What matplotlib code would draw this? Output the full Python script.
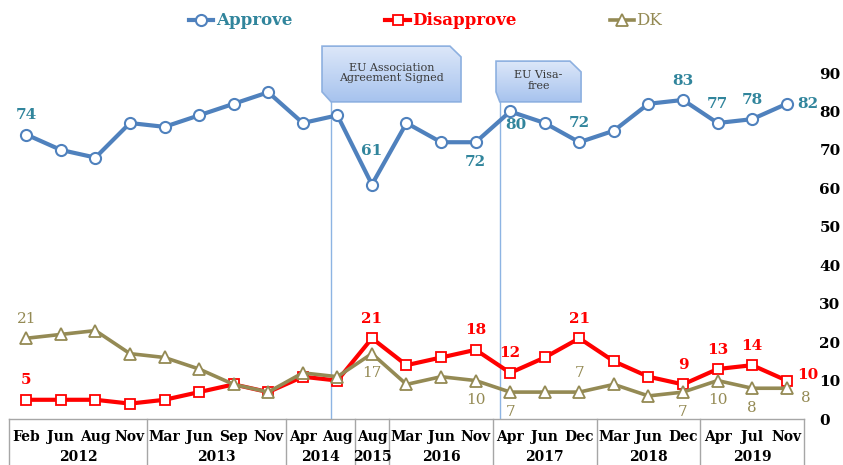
import numpy as np
import matplotlib
matplotlib.use('Agg')
import matplotlib.pyplot as plt
from matplotlib.patches import Polygon
plt.rcParams['font.family'] = ['DejaVu Serif']

# survey waves
months = ['Feb', 'Jun', 'Aug', 'Nov', 'Mar', 'Jun', 'Sep', 'Nov', 'Apr', 'Aug', 'Aug',
          'Mar', 'Jun', 'Nov', 'Apr', 'Jun', 'Dec', 'Mar', 'Jun', 'Dec', 'Apr', 'Jul', 'Nov']
years = ['2012', '2013', '2014', '2015', '2016', '2017', '2018', '2019']
year_counts = [4, 4, 2, 1, 3, 3, 3, 3]

approve = [74, 70, 68, 77, 76, 79, 82, 85, 77, 79, 61, 77, 72, 72, 80, 77, 72, 75, 82, 83, 77, 78, 82]
disapprove = [5, 5, 5, 4, 5, 7, 9, 7, 11, 10, 21, 14, 16, 18, 12, 16, 21, 15, 11, 9, 13, 14, 10]
dk = [21, 22, 23, 17, 16, 13, 9, 7, 12, 11, 17, 9, 11, 10, 7, 7, 7, 9, 6, 7, 10, 8, 8]

# which points carry a value label, and where it sits (a=above, b=below, r=right)
approve_lbl = {0: 'a', 10: 'a2', 13: 'b', 14: 'br', 16: 'a', 19: 'a', 20: 'a', 21: 'a', 22: 'r'}
disapprove_lbl = {0: 'a', 10: 'a', 13: 'a', 14: 'a', 16: 'a', 19: 'a', 20: 'a', 21: 'a', 22: 'ru'}
dk_lbl = {0: 'a', 10: 'b', 13: 'b', 14: 'b', 16: 'a', 19: 'b', 20: 'b', 21: 'b', 22: 'rd'}

c_app, c_app_txt = '#4F81BD', '#31859C'
c_dis = '#FF0000'
c_dk = '#948A54'

fig = plt.figure(figsize=(8.43, 4.65), dpi=100)
ax = fig.add_axes([9/843, 46/465, 795/843, 419/465])
x = np.arange(len(months))

ax.plot(x, approve, '-o', color=c_app, lw=3, ms=8, mfc='white', mec=c_app, mew=1.5,
        label='Approve', clip_on=False, zorder=3)
ax.plot(x, disapprove, '-s', color=c_dis, lw=3, ms=7.5, mfc='white', mec=c_dis, mew=1.3,
        label='Disapprove', clip_on=False, zorder=4)
ax.plot(x, dk, '-^', color=c_dk, lw=2.6, ms=8.5, mfc='white', mec=c_dk, mew=1.3,
        label='DK', clip_on=False, zorder=5)

offs = {'a': (0, 14), 'a2': (0, 24), 'b': (0, -14), 'br': (4, -10), 'r': (15, 0),
        'ru': (15, 4), 'rd': (14, -7)}
for vals, lbls, col, wt in [(approve, approve_lbl, c_app_txt, 'bold'),
                            (disapprove, disapprove_lbl, c_dis, 'bold'),
                            (dk, dk_lbl, c_dk, 'normal')]:
    for i, pos in lbls.items():
        ax.annotate(str(vals[i]), (x[i], vals[i]), xytext=offs[pos], textcoords='offset points',
                    ha='center', va='center', fontsize=11, color=col, fontweight=wt, zorder=6)

# event callouts
def callout(xs, ys, xline, text):
    l, r = xs
    t, b = ys
    pts = [(l, t), (r - 0.32, t), (r, t - 2.8), (r, b), (xline, b), (l, b + 2.6)]
    poly = Polygon(pts, closed=True, fc='none', ec='#8DB0E0', lw=1.2, zorder=8)
    ax.add_patch(poly)
    grad = np.linspace(0, 1, 64).reshape(-1, 1)
    cmap = matplotlib.colors.LinearSegmentedColormap.from_list('g', ['#DCE7F9', '#A7C3EE'])
    im = ax.imshow(grad, extent=(l, r, b, t), origin='upper', cmap=cmap, aspect='auto', zorder=7)
    im.set_clip_path(poly)
    ax.text((l + r) / 2, (t + b) / 2 + 0.3, text, ha='center', va='center', fontsize=8,
            color='#3A3A3A', linespacing=1.05, zorder=9)
    ax.plot([xline, xline], [0, b], color='#8DB4E3', lw=1, zorder=2)

callout((8.556, 12.577), (97.0, 82.5), 8.82, 'EU Association\nAgreement Signed')
callout((13.59, 16.05), (93.1, 82.5), 13.70, 'EU Visa-\nfree')

ax.set_xlim(-0.5, len(months) - 0.5)
ax.set_ylim(0, 419 / 3.844)
ax.set_yticks(range(0, 91, 10))
ax.yaxis.tick_right()
ax.tick_params(axis='y', length=0, pad=11, labelsize=11)
for t in ax.get_yticklabels():
    t.set_fontweight('bold')
    t.set_ha('left')
ax.set_xticks([])
for s in ax.spines.values():
    s.set_visible(False)

# category table under the plot
ax.plot([-0.5, len(months) - 0.5], [0, 0], color='#A6A6A6', lw=1, clip_on=False)
for i, m in enumerate(months):
    ax.text(i, -5.7, m, ha='center', va='baseline', fontsize=10, fontweight='bold', clip_on=False)
edges = np.concatenate([[0], np.cumsum(year_counts)]) - 0.5
for e in edges:
    ax.plot([e, e], [0, -13], color='#A6A6A6', lw=1, clip_on=False)
for y, a, b in zip(years, edges[:-1], edges[1:]):
    ax.text((a + b) / 2, -11.6, y, ha='center', va='bottom', fontsize=10, fontweight='bold',
            clip_on=False)

leg = ax.legend(loc='center', bbox_to_anchor=(0.505, 0.955), bbox_transform=fig.transFigure,
                ncol=3, frameon=False, handlelength=1.45, handletextpad=0.15, columnspacing=5.6,
                prop={'size': 12, 'weight': 'bold'})
for txt, col in zip(leg.get_texts(), [c_app_txt, c_dis, c_dk]):
    txt.set_color(col)
leg.get_texts()[2].set_fontweight('normal')

fig.savefig('out.png', dpi=100)
